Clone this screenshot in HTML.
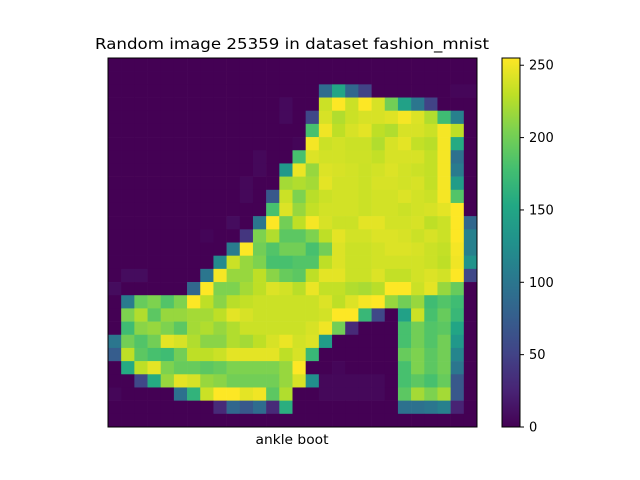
<!DOCTYPE html>
<html><head><meta charset="utf-8"><style>
html,body{margin:0;padding:0;background:#fff;}
svg{display:block;font-family:"DejaVu Sans","Liberation Sans",sans-serif;}
</style></head><body>
<svg id="fig" width="640" height="480" viewBox="0 0 640 480">
<text x="292" y="49" text-anchor="middle" font-size="15" textLength="394" lengthAdjust="spacingAndGlyphs" fill="#000">Random image 25359 in dataset fashion_mnist</text>
<g id="cells"></g>
<rect x="108" y="58" width="369" height="369" fill="none" stroke="#000" stroke-width="1"/>
<text x="292" y="444" text-anchor="middle" font-size="13" textLength="73" lengthAdjust="spacingAndGlyphs" fill="#000">ankle boot</text>
<defs><linearGradient id="vg" x1="0" y1="1" x2="0" y2="0"></linearGradient></defs>
<rect x="502" y="58" width="18" height="369" fill="url(#vg)"/>
<rect x="502" y="58" width="18" height="369" fill="none" stroke="#000" stroke-width="1"/>
<g id="cbticks"></g>
</svg>
<script>
const rows = 28, cols = 28;
const cbTicks = [0, 50, 100, 150, 200, 250];
const pixels = [
[0,0,0,0,0,0,0,0,0,0,0,0,0,0,0,0,0,0,0,0,0,0,0,0,0,0,0,0],
[0,0,0,0,0,0,0,0,0,0,0,0,0,0,0,0,0,0,0,0,0,0,0,0,0,0,0,0],
[0,0,0,0,0,0,0,0,0,0,0,0,0,0,0,0,90,150,85,50,0,0,0,0,0,0,4,4],
[0,0,0,0,0,0,0,0,0,0,0,0,0,6,0,0,235,255,235,255,240,200,145,100,50,0,0,0],
[0,0,0,0,0,0,0,0,0,0,0,0,0,6,0,55,240,225,235,240,240,243,252,242,225,175,110,0],
[0,0,0,0,0,0,0,0,0,0,0,0,0,0,0,180,250,230,240,245,230,225,240,240,235,252,230,0],
[0,0,0,0,0,0,0,0,0,0,0,0,0,0,3,252,235,238,235,235,225,240,245,232,228,252,155,0],
[0,0,0,0,0,0,0,0,0,0,0,5,0,0,180,242,238,238,236,236,232,240,240,240,232,252,95,0],
[0,0,0,0,0,0,0,0,0,0,0,5,0,135,248,215,242,240,238,235,238,242,238,235,232,252,105,0],
[0,0,0,0,0,0,0,0,0,0,5,0,0,220,225,220,245,238,238,235,240,240,238,240,232,252,140,0],
[0,0,0,0,0,0,0,0,0,0,5,0,70,235,205,228,235,238,238,235,238,238,242,238,235,252,185,0],
[0,0,0,0,0,0,0,0,0,0,0,0,180,242,215,232,238,238,238,235,238,238,235,238,240,245,255,0],
[0,0,0,0,0,0,0,0,0,8,0,100,255,200,230,252,240,235,235,245,245,238,238,240,230,235,255,85],
[0,0,0,0,0,0,0,3,0,0,40,205,225,190,190,205,230,245,238,238,242,242,240,235,240,235,255,110],
[0,0,0,0,0,0,0,0,0,105,255,200,185,200,200,180,200,242,235,235,238,242,242,240,235,232,252,110],
[0,0,0,0,0,0,0,0,120,235,215,205,180,180,185,185,230,242,235,235,238,238,238,238,235,230,250,130],
[0,8,8,0,0,0,0,100,252,215,215,230,210,195,190,230,245,245,235,235,242,232,232,238,242,238,255,55],
[8,0,0,0,0,0,85,255,205,205,220,230,242,238,228,248,232,232,225,222,228,255,255,235,245,215,195,0],
[0,105,195,205,185,205,255,230,210,228,232,235,235,235,235,235,242,230,242,252,255,215,200,215,175,185,175,0],
[0,205,225,190,215,215,220,220,230,245,240,235,235,235,235,235,238,255,255,170,55,0,145,235,180,195,170,0],
[0,175,210,215,205,190,220,225,215,225,235,235,235,235,235,240,250,200,30,0,0,0,180,200,185,190,150,0],
[100,200,185,200,245,240,225,210,210,225,220,230,240,248,238,242,140,0,0,0,0,0,180,200,185,200,135,0],
[75,230,190,180,175,200,230,230,235,245,245,245,245,230,240,170,0,0,0,0,0,0,195,205,190,200,115,0],
[0,155,230,245,205,195,195,190,195,205,205,205,205,215,255,0,0,4,0,0,0,0,180,205,190,200,100,0],
[0,0,55,155,215,245,240,215,210,200,200,200,200,215,240,125,5,5,5,5,5,0,180,190,180,195,70,0],
[4,0,0,0,0,95,165,235,255,255,245,250,190,225,0,0,5,5,5,5,5,0,190,220,205,220,70,0],
[0,0,0,0,0,0,0,0,30,85,70,90,30,160,0,0,0,0,0,0,0,0,95,95,100,110,25,0],
[0,0,0,0,0,0,0,0,0,0,0,0,0,0,0,0,0,0,0,0,0,0,0,0,0,0,0,0]
];
const VIR = ["#440154","#482475","#414487","#355f8d","#2a788e","#21918c","#22a884","#44bf70","#7ad151","#bddf26","#fde725"];
function hex(h){return [parseInt(h.substr(1,2),16),parseInt(h.substr(3,2),16),parseInt(h.substr(5,2),16)];}
function viridis(t){
  t=Math.max(0,Math.min(1,t));
  const f=t*10,i=Math.min(9,Math.floor(f)),u=f-i;
  const a=hex(VIR[i]),b=hex(VIR[i+1]);
  return "rgb("+a.map((v,k)=>Math.round(v+(b[k]-v)*u)).join(",")+")";
}
let vmax=0; pixels.forEach(r=>r.forEach(v=>{if(v>vmax)vmax=v;}));
const X0=108,Y0=58,W=369,H=369;
const cw=W/cols, ch=H/rows;
const NS="http://www.w3.org/2000/svg";
const g=document.getElementById('cells');
pixels.forEach((row,r)=>row.forEach((v,c)=>{
  const el=document.createElementNS(NS,'rect');
  el.setAttribute('x',(X0+c*cw).toFixed(2));
  el.setAttribute('y',(Y0+r*ch).toFixed(2));
  el.setAttribute('width',(cw+0.3).toFixed(2));
  el.setAttribute('height',(ch+0.3).toFixed(2));
  el.setAttribute('fill',viridis(v/vmax));
  
  
  g.appendChild(el);
}));
const lg=document.getElementById('vg');
VIR.forEach((c,i)=>{const s=document.createElementNS(NS,'stop');s.setAttribute('offset',(i*10)+'%');s.setAttribute('stop-color',c);lg.appendChild(s);});
const tg=document.getElementById('cbticks');
const CB_Y0=58,CB_H=369;
function cbY(v){return CB_Y0+CB_H-(v/vmax)*CB_H;}
cbTicks.forEach(v=>{
  const y=cbY(v);
  const ln=document.createElementNS(NS,'line');
  ln.setAttribute('x1',520);ln.setAttribute('x2',524);
  ln.setAttribute('y1',y);ln.setAttribute('y2',y);
  ln.setAttribute('stroke','#000');
  
  
  tg.appendChild(ln);
  const t=document.createElementNS(NS,'text');
  t.setAttribute('x',529);t.setAttribute('y',y+4.5);
  t.setAttribute('font-size','13');
  t.textContent=v;
  
  
  tg.appendChild(t);
});
</script>
</body></html>
